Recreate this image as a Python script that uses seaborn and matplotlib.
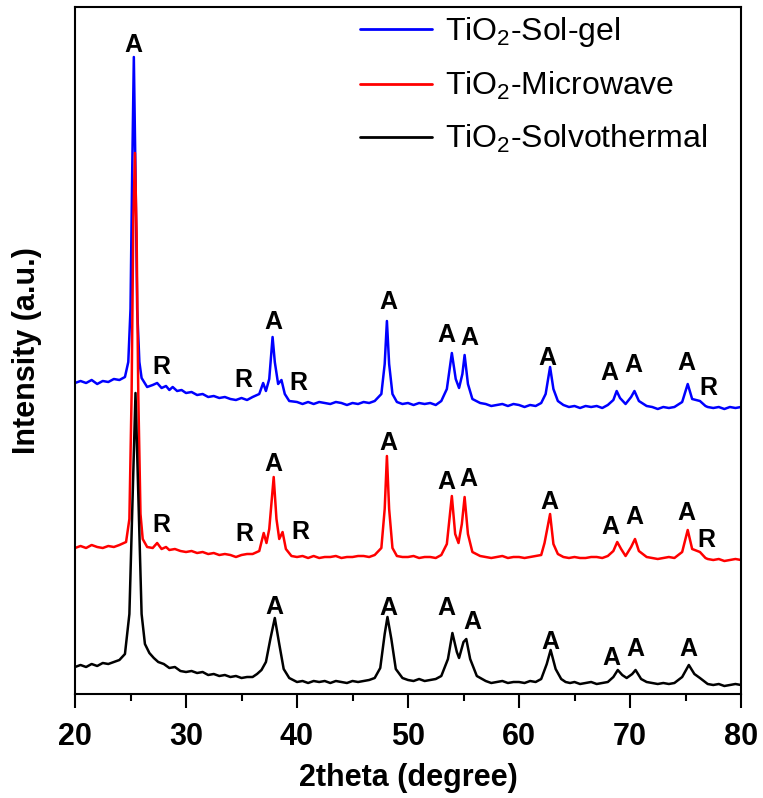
import numpy as np
import pandas as pd
import matplotlib
matplotlib.use("Agg")
import matplotlib.pyplot as plt
import seaborn as sns
from matplotlib.ticker import MultipleLocator

# ---------------- data (2theta, intensity in a.u., offset stacked) ----------------
solgel_x = [20.0, 20.5, 21.0, 21.5, 22.0, 22.5, 23.0, 23.5, 24.0, 24.5, 24.8, 25.0, 25.15, 25.3,
            25.45, 25.6, 25.8, 26.0, 26.5, 27.0, 27.4, 27.8, 28.2, 28.5, 28.8, 29.2, 29.6, 30.0,
            30.5, 31.0, 31.5, 32.0, 32.5, 33.0, 33.5, 34.0, 34.5, 35.0, 35.5, 36.0, 36.6, 36.95,
            37.2, 37.5, 37.8, 38.0, 38.3, 38.6, 38.9, 39.3, 40.0, 40.5, 41.0, 41.5, 42.0, 42.5,
            43.0, 43.5, 44.0, 44.5, 45.0, 45.5, 46.0, 46.5, 47.0, 47.6, 47.9, 48.1, 48.3, 48.6,
            49.0, 49.5, 50.0, 50.5, 51.0, 51.5, 52.0, 52.5, 53.0, 53.5, 53.95, 54.3, 54.6, 54.9,
            55.1, 55.4, 55.8, 56.5, 57.0, 57.5, 58.0, 58.5, 59.0, 59.5, 60.0, 60.5, 61.0, 61.5,
            62.0, 62.4, 62.8, 63.1, 63.5, 64.0, 64.5, 65.0, 65.5, 66.0, 66.5, 67.0, 67.5, 68.0,
            68.5, 68.8, 69.1, 69.6, 70.1, 70.4, 70.8, 71.5, 72.0, 72.5, 73.0, 73.5, 74.0, 74.7,
            75.2, 75.6, 76.3, 76.8, 77.0, 77.5, 78.0, 78.5, 79.0, 79.5, 80.0]
solgel_y = [311, 313, 311, 314, 310, 313, 312, 315, 314, 317, 332, 385, 520, 637,
            520, 385, 332, 316, 307, 309, 311, 306, 308, 304, 307, 303, 304, 301,
            302, 299, 300, 297, 298, 296, 297, 295, 294, 296, 294, 297, 300, 311,
            303, 315, 357, 332, 310, 314, 300, 293, 292, 290, 292, 290, 292, 291,
            290, 292, 291, 289, 291, 290, 292, 291, 293, 300, 330, 373, 330, 300,
            292, 290, 291, 289, 291, 290, 291, 289, 293, 305, 341, 315, 306, 320,
            339, 310, 295, 291, 290, 288, 289, 290, 288, 290, 289, 287, 289, 288,
            291, 300, 327, 305, 293, 289, 287, 288, 286, 288, 287, 288, 286, 289,
            294, 303, 296, 290, 297, 303, 293, 288, 287, 285, 287, 286, 287, 292,
            310, 295, 293, 288, 287, 286, 287, 285, 287, 286, 287]

micro_x = [20.0, 20.5, 21.0, 21.5, 22.0, 22.5, 23.0, 23.5, 24.0, 24.6, 24.9, 25.1, 25.25, 25.4,
           25.55, 25.7, 25.9, 26.1, 26.5, 27.0, 27.4, 27.8, 28.2, 28.5, 29.0, 29.5, 30.0, 30.5,
           31.0, 31.5, 32.0, 32.5, 33.0, 33.5, 34.0, 34.5, 35.0, 35.5, 36.0, 36.6, 37.0, 37.25,
           37.5, 37.9, 38.15, 38.4, 38.7, 39.0, 39.5, 40.0, 40.5, 41.0, 41.5, 42.0, 42.5, 43.0,
           43.5, 44.0, 44.5, 45.0, 45.5, 46.0, 46.5, 47.0, 47.6, 47.9, 48.1, 48.3, 48.6, 49.0,
           49.5, 50.0, 50.5, 51.0, 51.5, 52.0, 52.5, 53.0, 53.5, 53.95, 54.25, 54.55, 54.85, 55.1,
           55.4, 55.8, 56.5, 57.0, 57.5, 58.0, 58.5, 59.0, 59.5, 60.0, 60.5, 61.0, 61.5, 62.0,
           62.3, 62.8, 63.1, 63.5, 64.0, 64.5, 65.0, 65.5, 66.0, 66.5, 67.0, 67.5, 68.0, 68.5,
           68.85, 69.2, 69.6, 70.1, 70.45, 70.8, 71.5, 72.0, 72.5, 73.0, 73.5, 74.0, 74.7, 75.2,
           75.6, 76.3, 76.8, 77.0, 77.5, 78.0, 78.5, 79.0, 79.5, 80.0]
micro_y = [146, 148, 146, 149, 147, 146, 148, 147, 149, 152, 175, 300, 470, 541,
           460, 300, 180, 155, 147, 146, 151, 145, 147, 144, 145, 143, 142, 143,
           141, 142, 140, 141, 139, 140, 139, 137, 139, 140, 140, 143, 161, 151,
           165, 217, 175, 155, 162, 145, 138, 137, 138, 136, 138, 136, 137, 137,
           138, 136, 137, 137, 138, 138, 137, 139, 146, 185, 238, 185, 146, 138,
           137, 137, 138, 136, 137, 137, 136, 139, 150, 198, 160, 151, 170, 197,
           160, 142, 138, 137, 136, 137, 138, 136, 137, 137, 136, 137, 138, 139,
           151, 180, 150, 140, 137, 136, 137, 136, 136, 137, 137, 136, 138, 143,
           152, 145, 138, 147, 155, 143, 137, 136, 135, 136, 137, 136, 142, 164,
           145, 142, 136, 135, 134, 135, 133, 134, 135, 134]

solvo_x = [20.0, 20.5, 21.0, 21.5, 22.0, 22.5, 23.0, 23.5, 24.0, 24.5, 24.9, 25.2, 25.45, 25.7,
           26.0, 26.3, 26.7, 27.1, 27.5, 28.0, 28.5, 29.0, 29.5, 30.0, 30.5, 31.0, 31.5, 32.0,
           32.5, 33.0, 33.5, 34.0, 34.5, 35.0, 35.5, 36.0, 36.4, 36.8, 37.2, 37.6, 38.0, 38.4,
           38.8, 39.3, 40.0, 40.5, 41.0, 41.5, 42.0, 42.5, 43.0, 43.5, 44.0, 44.5, 45.0, 45.5,
           46.0, 46.5, 47.0, 47.5, 47.9, 48.15, 48.5, 48.9, 49.5, 50.0, 50.5, 51.0, 51.5, 52.0,
           52.5, 53.0, 53.6, 54.0, 54.4, 54.6, 55.0, 55.25, 55.6, 56.2, 57.0, 57.5, 58.0, 58.5,
           59.0, 59.5, 60.0, 60.5, 61.0, 61.5, 62.0, 62.5, 62.85, 63.3, 63.8, 64.2, 64.6, 65.0,
           65.5, 66.0, 66.5, 67.0, 67.5, 68.0, 68.5, 68.9, 69.3, 69.7, 70.2, 70.5, 71.0, 71.5,
           72.0, 72.5, 73.0, 73.5, 74.0, 74.7, 75.3, 75.8, 76.3, 77.0, 77.5, 78.0, 78.5, 79.0,
           79.5, 80.0]
solvo_y = [27, 29, 27, 30, 28, 31, 30, 32, 34, 40, 80, 200, 301, 200,
           80, 50, 41, 36, 32, 30, 26, 27, 23, 22, 23, 21, 22, 19,
           20, 18, 19, 17, 18, 16, 17, 17, 20, 24, 32, 55, 76, 50,
           25, 16, 12, 13, 11, 13, 12, 13, 11, 13, 12, 11, 13, 12,
           13, 14, 16, 26, 60, 77, 55, 25, 16, 14, 13, 15, 13, 14,
           15, 18, 35, 61, 42, 36, 52, 55, 35, 18, 13, 11, 12, 13,
           11, 12, 12, 11, 13, 12, 15, 30, 44, 25, 15, 12, 11, 12,
           10, 11, 12, 10, 11, 12, 17, 24, 19, 16, 20, 24, 15, 12,
           11, 10, 11, 10, 11, 17, 29, 20, 16, 10, 9, 10, 8, 9,
           10, 9]

series_names = ["TiO$_2$-Sol-gel", "TiO$_2$-Microwave", "TiO$_2$-Solvothermal"]
series_colors = ["#0000FF", "#FF0000", "#000000"]

# phase labels: (2theta, height, letter)
solgel_lbl_x = [25.3, 27.8, 35.2, 37.85, 40.1, 48.2, 53.5, 55.5, 62.6, 68.1, 70.3, 75.1, 77.1]
solgel_lbl_y = [649, 327, 314, 372, 311, 392, 359, 356, 336, 321, 329, 331, 306]
solgel_lbl_t = ["A", "R", "R", "A", "R", "A", "A", "A", "A", "A", "A", "A", "R"]

micro_lbl_x = [27.8, 35.3, 37.9, 40.3, 48.2, 53.5, 55.4, 62.7, 68.2, 70.4, 75.1, 76.9]
micro_lbl_y = [169, 160, 230, 162, 251, 212, 215, 192, 167, 177, 181, 154]
micro_lbl_t = ["R", "R", "A", "R", "A", "A", "A", "A", "A", "A", "A", "R"]

solvo_lbl_x = [38.0, 48.2, 53.5, 55.8, 62.8, 68.3, 70.5, 75.3]
solvo_lbl_y = [87, 86, 86, 72, 52, 36, 45, 45]
solvo_lbl_t = ["A", "A", "A", "A", "A", "A", "A", "A"]

x_ticks = [20, 30, 40, 50, 60, 70, 80]

# ---------------- plot ----------------
sns.set_style("ticks")
plt.rcParams["font.family"] = ["Liberation Sans", "DejaVu Sans"]
plt.rcParams["mathtext.default"] = "regular"
plt.rcParams["text.color"] = "black"
plt.rcParams["axes.labelcolor"] = "black"
plt.rcParams["xtick.color"] = "black"
plt.rcParams["ytick.color"] = "black"

df = pd.concat([
    pd.DataFrame({"2theta": solgel_x, "I": solgel_y, "sample": series_names[0]}),
    pd.DataFrame({"2theta": micro_x, "I": micro_y, "sample": series_names[1]}),
    pd.DataFrame({"2theta": solvo_x, "I": solvo_y, "sample": series_names[2]}),
], ignore_index=True)

fig = plt.figure(figsize=(7.63, 7.98), dpi=100)
ax = fig.add_axes([75 / 763, 1 - 694 / 798, 666 / 763, 687 / 798])

sns.lineplot(data=df, x="2theta", y="I", hue="sample", hue_order=series_names,
             palette=series_colors, estimator=None, sort=False, linewidth=1.8, ax=ax)

for xs, ys, ts in [(solgel_lbl_x, solgel_lbl_y, solgel_lbl_t),
                   (micro_lbl_x, micro_lbl_y, micro_lbl_t),
                   (solvo_lbl_x, solvo_lbl_y, solvo_lbl_t)]:
    for x, y, t in zip(xs, ys, ts):
        ax.text(x, y, t, ha="center", va="center", fontsize=18, fontweight="bold", color="black")

ax.set_xlim(20, 80)
ax.set_ylim(0, 687)
ax.set_xticks(x_ticks)
ax.xaxis.set_minor_locator(MultipleLocator(5))
ax.set_yticks([])
ax.tick_params(axis="x", which="major", direction="out", length=10, width=1.5,
               labelsize=22, pad=10, colors="black")
ax.tick_params(axis="x", which="minor", direction="out", length=5, width=1.5, colors="black")
for lab in ax.get_xticklabels():
    lab.set_fontweight("bold")
for sp in ax.spines.values():
    sp.set_visible(True)
    sp.set_linewidth(1.5)
    sp.set_color("black")

ax.set_xlabel("2theta (degree)", fontsize=22, fontweight="bold", labelpad=8, color="black")
ax.set_ylabel("Intensity (a.u.)", fontsize=22, fontweight="bold", labelpad=24, color="black")

leg = ax.legend(loc="upper left", bbox_to_anchor=(0.428, 0.988), frameon=False,
                fontsize=23, handlelength=2.25, handletextpad=0.4, labelspacing=0.65,
                borderpad=0, borderaxespad=0)
for line in leg.get_lines():
    line.set_linewidth(2)
for t in leg.get_texts():
    t.set_color("black")

fig.savefig("out.png", dpi=100)
